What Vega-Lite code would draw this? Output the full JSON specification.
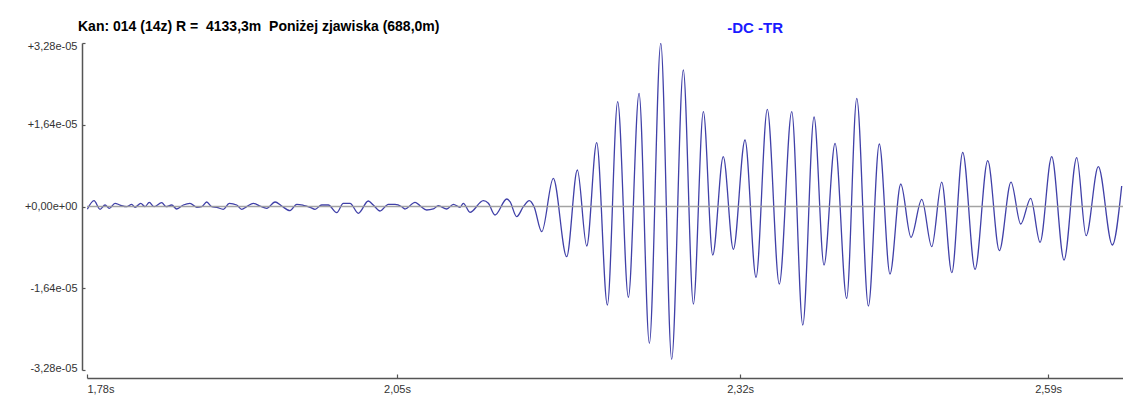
{
  "$schema": "https://vega.github.io/schema/vega-lite/v6.json",
  "width": 1036,
  "height": 327,
  "autosize": {"type": "none"},
  "padding": {"left": 87, "top": 43, "right": 0, "bottom": 27},
  "background": "white",
  "title": {
    "text": "Kan: 014 (14z) R =\u00a0 4133,3m\u00a0 Poniżej zjawiska (688,0m)",
    "anchor": "start",
    "frame": "group",
    "dx": -9,
    "offset": -13,
    "font": "Liberation Sans",
    "fontWeight": "bold",
    "fontSize": 14,
    "color": "#000000"
  },
  "config": {
    "view": {"stroke": null},
    "axis": {
      "labelFont": "Liberation Sans",
      "labelFontSize": 11,
      "labelColor": "#333333",
      "domainColor": "#555555",
      "domainWidth": 1.5,
      "tickColor": "#555555",
      "tickWidth": 1.2,
      "grid": false,
      "title": null
    }
  },
  "datasets": {
    "trace": [
      {"t": 1.7803, "v": -0.056e-5}, {"t": 1.7859, "v": 0.116e-5}, {"t": 1.7910, "v": -0.056e-5}, {"t": 1.7952, "v": 0.030e-5},
      {"t": 1.7988, "v": -0.036e-5}, {"t": 1.8036, "v": 0.064e-5}, {"t": 1.8078, "v": 0.030e-5}, {"t": 1.8135, "v": -0.004e-5},
      {"t": 1.8177, "v": 0.044e-5}, {"t": 1.8205, "v": -0.016e-5}, {"t": 1.8253, "v": 0.064e-5}, {"t": 1.8289, "v": -0.004e-5},
      {"t": 1.8325, "v": 0.084e-5}, {"t": 1.8365, "v": -0.004e-5}, {"t": 1.8430, "v": 0.076e-5}, {"t": 1.8466, "v": -0.004e-5},
      {"t": 1.8514, "v": 0.030e-5}, {"t": 1.8556, "v": -0.050e-5}, {"t": 1.8612, "v": 0.030e-5}, {"t": 1.8668, "v": 0.064e-5},
      {"t": 1.8725, "v": -0.016e-5}, {"t": 1.8767, "v": -0.004e-5}, {"t": 1.8809, "v": 0.090e-5}, {"t": 1.8851, "v": -0.004e-5},
      {"t": 1.8893, "v": -0.016e-5}, {"t": 1.8949, "v": -0.056e-5}, {"t": 1.8999, "v": 0.064e-5}, {"t": 1.9062, "v": 0.030e-5},
      {"t": 1.9104, "v": -0.056e-5}, {"t": 1.9146, "v": -0.004e-5}, {"t": 1.9202, "v": 0.064e-5}, {"t": 1.9258, "v": 0.010e-5},
      {"t": 1.9315, "v": -0.036e-5}, {"t": 1.9385, "v": 0.090e-5}, {"t": 1.9441, "v": 0.010e-5}, {"t": 1.9511, "v": -0.084e-5},
      {"t": 1.9568, "v": 0.044e-5}, {"t": 1.9623, "v": 0.024e-5}, {"t": 1.9680, "v": -0.016e-5}, {"t": 1.9722, "v": -0.056e-5},
      {"t": 1.9778, "v": 0.030e-5}, {"t": 1.9834, "v": 0.030e-5}, {"t": 1.9905, "v": -0.124e-5}, {"t": 1.9960, "v": 0.064e-5},
      {"t": 2.0017, "v": 0.064e-5}, {"t": 2.0087, "v": -0.136e-5}, {"t": 2.0171, "v": 0.110e-5}, {"t": 2.0213, "v": 0.030e-5},
      {"t": 2.0270, "v": -0.090e-5}, {"t": 2.0340, "v": 0.044e-5}, {"t": 2.0396, "v": 0.044e-5}, {"t": 2.0453, "v": -0.004e-5},
      {"t": 2.0480, "v": -0.050e-5}, {"t": 2.0565, "v": 0.084e-5}, {"t": 2.0607, "v": 0.016e-5}, {"t": 2.0663, "v": -0.070e-5},
      {"t": 2.0719, "v": -0.050e-5}, {"t": 2.0761, "v": 0.016e-5}, {"t": 2.0832, "v": -0.050e-5}, {"t": 2.0888, "v": 0.044e-5},
      {"t": 2.0944, "v": -0.016e-5}, {"t": 2.0972, "v": 0.064e-5}, {"t": 2.1028, "v": -0.116e-5}, {"t": 2.1140, "v": 0.116e-5},
      {"t": 2.1183, "v": 0.064e-5}, {"t": 2.1239, "v": -0.171e-5}, {"t": 2.1338, "v": 0.150e-5}, {"t": 2.1365, "v": 0.097e-5},
      {"t": 2.1422, "v": -0.204e-5}, {"t": 2.1478, "v": -0.004e-5}, {"t": 2.1528, "v": 0.116e-5}, {"t": 2.1568, "v": -0.004e-5},
      {"t": 2.1633, "v": -0.506e-5}, {"t": 2.1730, "v": 0.566e-5}, {"t": 2.1843, "v": -1.007e-5}, {"t": 2.1933, "v": 0.732e-5},
      {"t": 2.2012, "v": -0.792e-5}, {"t": 2.2096, "v": 1.280e-5}, {"t": 2.2186, "v": -1.976e-5}, {"t": 2.2273, "v": 2.102e-5},
      {"t": 2.2363, "v": -1.821e-5}, {"t": 2.2453, "v": 2.271e-5}, {"t": 2.2540, "v": -2.744e-5}, {"t": 2.2636, "v": 3.274e-5},
      {"t": 2.2728, "v": -3.065e-5}, {"t": 2.2826, "v": 2.738e-5}, {"t": 2.2911, "v": -1.956e-5}, {"t": 2.2995, "v": 1.902e-5},
      {"t": 2.3074, "v": -0.973e-5}, {"t": 2.3163, "v": 0.999e-5}, {"t": 2.3248, "v": -0.859e-5}, {"t": 2.3346, "v": 1.334e-5},
      {"t": 2.3439, "v": -1.420e-5}, {"t": 2.3534, "v": 1.950e-5}, {"t": 2.3635, "v": -1.555e-5}, {"t": 2.3740, "v": 1.902e-5},
      {"t": 2.3833, "v": -2.377e-5}, {"t": 2.3928, "v": 1.795e-5}, {"t": 2.4012, "v": -1.174e-5}, {"t": 2.4105, "v": 1.268e-5},
      {"t": 2.4203, "v": -1.842e-5}, {"t": 2.4288, "v": 2.171e-5}, {"t": 2.4386, "v": -1.996e-5}, {"t": 2.4478, "v": 1.254e-5},
      {"t": 2.4568, "v": -1.354e-5}, {"t": 2.4659, "v": 0.451e-5}, {"t": 2.4745, "v": -0.618e-5}, {"t": 2.4836, "v": 0.144e-5},
      {"t": 2.4920, "v": -0.806e-5}, {"t": 2.5004, "v": 0.491e-5}, {"t": 2.5089, "v": -1.328e-5}, {"t": 2.5181, "v": 1.087e-5},
      {"t": 2.5285, "v": -1.260e-5}, {"t": 2.5392, "v": 0.919e-5}, {"t": 2.5490, "v": -0.887e-5}, {"t": 2.5588, "v": 0.491e-5},
      {"t": 2.5670, "v": -0.351e-5}, {"t": 2.5754, "v": 0.164e-5}, {"t": 2.5833, "v": -0.718e-5}, {"t": 2.5931, "v": 0.999e-5},
      {"t": 2.6035, "v": -1.073e-5}, {"t": 2.6142, "v": 0.979e-5}, {"t": 2.6221, "v": -0.586e-5}, {"t": 2.6324, "v": 0.798e-5},
      {"t": 2.6442, "v": -0.772e-5}, {"t": 2.6521, "v": 0.411e-5}
    ]
  },
  "layer": [
    {
      "data": {"name": "trace"},
      "mark": {"type": "line", "interpolate": "monotone", "color": "#4040a8", "strokeWidth": 1.3, "clip": true},
      "encoding": {
        "x": {
          "field": "t", "type": "quantitative",
          "scale": {"domain": [1.78, 2.6532], "nice": false, "zero": false},
          "axis": {
            "values": [1.78, 2.0413, 2.3305, 2.5901],
            "labelExpr": "datum.value < 1.9 ? '1,78s' : datum.value < 2.2 ? '2,05s' : datum.value < 2.45 ? '2,32s' : '2,59s'",
            "offset": 8,
            "tickSize": -4,
            "labelPadding": 9,
            "labelFlush": true
          }
        },
        "y": {
          "field": "v", "type": "quantitative",
          "scale": {"domain": [-3.28e-5, 3.28e-5], "nice": false},
          "axis": {
            "values": [-3.28e-5, -1.64e-5, 0, 1.64e-5, 3.28e-5],
            "labelExpr": "datum.value > 3e-5 ? '+3,28e-05' : datum.value > 1e-5 ? '+1,64e-05' : datum.value > -1e-5 ? '+0,00e+00' : datum.value > -2e-5 ? '-1,64e-05' : '-3,28e-05'",
            "offset": 5,
            "tickSize": -3,
            "labelPadding": 8,
            "labelFlush": true,
            "labelFlushOffset": 3
          }
        }
      }
    },
    {
      "data": {"values": [{"zero": 0}]},
      "mark": {"type": "rule", "color": "#999999", "strokeWidth": 1.5, "opacity": 0.9},
      "encoding": {"y": {"field": "zero", "type": "quantitative"}}
    },
    {
      "data": {"values": [{"label": "-DC -TR", "t": 2.3431, "v": 3.28e-5}]},
      "mark": {"type": "text", "dy": -15, "font": "Liberation Sans", "fontWeight": "bold", "fontSize": 15, "color": "#1a1aff", "align": "center", "baseline": "middle"},
      "encoding": {
        "x": {"field": "t", "type": "quantitative"},
        "y": {"field": "v", "type": "quantitative"},
        "text": {"field": "label"}
      }
    }
  ]
}
